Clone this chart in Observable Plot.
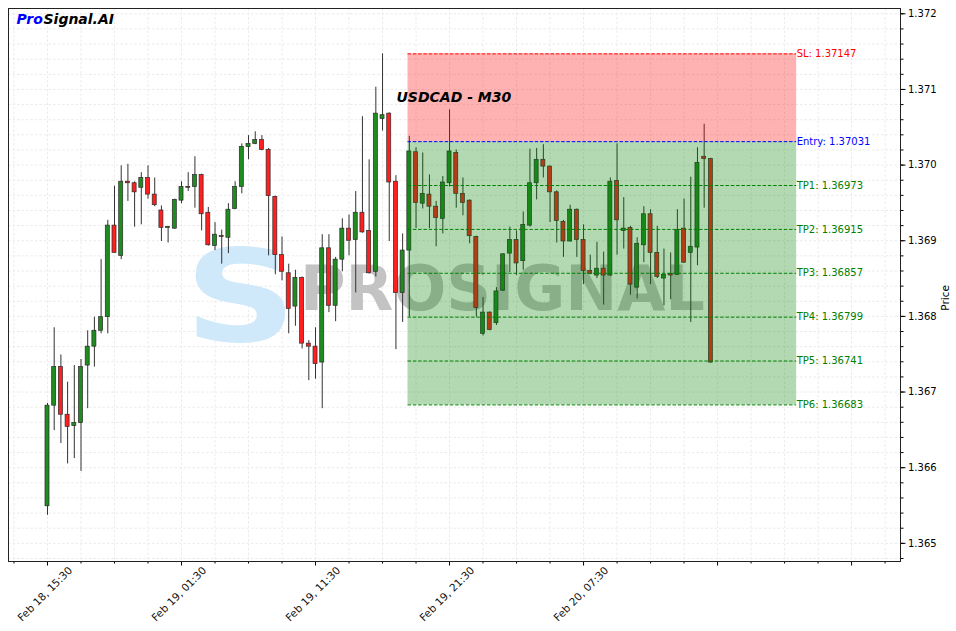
<!DOCTYPE html>
<html><head><meta charset="utf-8">
<script src="https://cdn.jsdelivr.net/npm/d3@7"></script>
<script src="https://cdn.jsdelivr.net/npm/@observablehq/plot@0.6"></script>
<style>html,body{margin:0;padding:0;background:#fff;} #chart{width:956px;height:631px;}</style>
</head><body><div id="chart"></div>
<script>
// USDCAD M30 bars, one every 30 minutes starting Feb 18, 15:30
const opens = [1.36549,1.36682,1.36733,1.36670,1.36655,1.36659,1.36735,1.36760,1.36781,1.36799,
1.36920,1.36880,1.36978,1.36976,1.36970,1.36983,1.36961,1.36940,1.36917,1.36916,
1.36953,1.36971,1.36971,1.36987,1.36937,1.36893,1.36906,1.36904,1.36942,1.36971,
1.37024,1.37028,1.37033,1.37020,1.36958,1.36881,1.36857,1.36813,1.36851,1.36764,
1.36760,1.36739,1.36890,1.36814,1.36875,1.36916,1.36901,1.36937,1.36913,1.36859,
1.37061,1.37068,1.36978,1.36831,1.36887,1.37017,1.36949,1.36961,1.36945,1.36929,
1.36976,1.37016,1.36962,1.36953,1.36905,1.36777,1.36805,1.36791,1.36834,1.36883,
1.36901,1.36873,1.36920,1.36976,1.37007,1.36998,1.36964,1.36925,1.36899,1.36941,
1.36901,1.36860,1.36854,1.36863,1.36854,1.36979,1.36913,1.36917,1.36838,1.36894,
1.36935,1.36884,1.36850,1.36856,1.36855,1.36916,1.36884,1.36891,1.37011,1.37008];
const highs = [1.36685,1.36785,1.36749,1.36713,1.36735,1.36743,1.36781,1.36799,1.36875,1.36927,
1.36972,1.36999,1.37001,1.36978,1.36990,1.36999,1.36983,1.36946,1.36919,1.36955,
1.36978,1.36990,1.37011,1.36988,1.36944,1.36924,1.36914,1.36949,1.36978,1.37028,
1.37039,1.37044,1.37039,1.37022,1.36959,1.36905,1.36869,1.36861,1.36852,1.36768,
1.36785,1.36908,1.36908,1.36878,1.36929,1.36934,1.36965,1.37064,1.37007,1.37103,
1.37147,1.37069,1.36986,1.36909,1.37038,1.37023,1.37016,1.36987,1.36952,1.36985,
1.37073,1.37020,1.36983,1.36954,1.36906,1.36825,1.36806,1.36838,1.36883,1.36918,
1.36913,1.36938,1.37021,1.37022,1.37027,1.36999,1.36966,1.36927,1.36947,1.36942,
1.36921,1.36881,1.36898,1.36885,1.36983,1.37028,1.36957,1.36919,1.36904,1.36945,
1.36941,1.36919,1.36889,1.36884,1.36941,1.36955,1.36984,1.37023,1.37054,1.37009];
const lows = [1.36537,1.36649,1.36632,1.36605,1.36612,1.36595,1.36678,1.36733,1.36777,1.36777,
1.36884,1.36875,1.36952,1.36918,1.36921,1.36955,1.36945,1.36899,1.36897,1.36915,
1.36949,1.36965,1.36943,1.36913,1.36893,1.36887,1.36869,1.36883,1.36941,1.36962,
1.37007,1.37027,1.37019,1.36880,1.36855,1.36847,1.36777,1.36787,1.36757,1.36715,
1.36717,1.36678,1.36805,1.36793,1.36859,1.36880,1.36831,1.36910,1.36856,1.36852,
1.37045,1.36899,1.36756,1.36792,1.36799,1.36916,1.36942,1.36916,1.36892,1.36909,
1.36971,1.36943,1.36933,1.36896,1.36799,1.36774,1.36781,1.36788,1.36833,1.36858,
1.36854,1.36861,1.36918,1.36954,1.36983,1.36924,1.36897,1.36878,1.36898,1.36878,
1.36842,1.36855,1.36850,1.36815,1.36853,1.36881,1.36889,1.36828,1.36823,1.36871,
1.36842,1.36850,1.36814,1.36822,1.36854,1.36870,1.36792,1.36867,1.36943,1.36738];
const closes = [1.36682,1.36733,1.36670,1.36654,1.36659,1.36733,1.36760,1.36781,1.36799,1.36920,
1.36884,1.36978,1.36976,1.36964,1.36983,1.36961,1.36947,1.36917,1.36917,1.36954,
1.36971,1.36970,1.36987,1.36935,1.36894,1.36908,1.36905,1.36941,1.36971,1.37024,
1.37028,1.37033,1.37020,1.36959,1.36881,1.36859,1.36810,1.36851,1.36764,1.36760,
1.36737,1.36890,1.36814,1.36875,1.36916,1.36900,1.36937,1.36911,1.36857,1.37068,
1.37066,1.36977,1.36831,1.36887,1.37018,1.36950,1.36962,1.36945,1.36930,1.36977,
1.37018,1.36962,1.36950,1.36906,1.36811,1.36805,1.36782,1.36833,1.36882,1.36901,
1.36870,1.36921,1.36976,1.37007,1.36998,1.36964,1.36926,1.36899,1.36941,1.36901,
1.36860,1.36856,1.36863,1.36854,1.36978,1.36927,1.36916,1.36842,1.36896,1.36935,
1.36884,1.36852,1.36855,1.36854,1.36914,1.36871,1.36892,1.37003,1.37008,1.36739];

const tickLabels = ["Feb 18, 15:30","Feb 19, 01:30","Feb 19, 11:30","Feb 19, 21:30","Feb 20, 07:30","",""];
const barsPerMajorTick = 20;
const barsPerMinorTick = 5;

const levelNames = ["SL","Entry","TP1","TP2","TP3","TP4","TP5","TP6"];
const levelValues = [1.37147,1.37031,1.36973,1.36915,1.36857,1.36799,1.36741,1.36683];
const levelColors = ["#ff0000","#0000ff","#008000","#008000","#008000","#008000","#008000","#008000"];
const zoneSpan = [53.8, 111.8]; // bar index where the trade box starts / ends

const bars = opens.map((o, i) => ({i, o, h: highs[i], l: lows[i], c: closes[i]}));
const levels = levelNames.map((name, k) => ({name, value: levelValues[k], color: levelColors[k]}));
const zones = [
  {y1: levelValues[1], y2: levelValues[0], fill: "#ff0000"},
  {y1: levelValues[7], y2: levelValues[1], fill: "#008000"}
];

const majorX = tickLabels.map((_, k) => k * barsPerMajorTick);
const minorX = d3.range(-5, 130, barsPerMinorTick);
const majorY = d3.range(1365, 1373).map(v => v / 1000);
const minorY = d3.range(13648, 13722, 2).map(v => v / 10000);

const GREEN = "#1f8c1f", RED = "#ff1f1f";
const bold = {fontWeight: "bold", fontStyle: "italic", textAnchor: "start", lineAnchor: "middle", frameAnchor: "top-left"};

const chart = Plot.plot({
  width: 956, height: 631,
  marginLeft: 8, marginRight: 56, marginTop: 8, marginBottom: 70,
  style: {fontFamily: "DejaVu Sans", fontSize: "10px", background: "#fff", color: "#000"},
  x: {domain: [-5.82, 127.3]},
  y: {domain: [1.36476, 1.37207]},
  color: {type: "identity"},
  marks: [
    Plot.gridY(minorY, {stroke: "#ebebeb", strokeOpacity: 1, strokeDasharray: "2.5,2"}),
    Plot.gridX(minorX, {stroke: "#ebebeb", strokeOpacity: 1, strokeDasharray: "2.5,2"}),
    // watermark
    Plot.text(["S"], {frameAnchor: "top-left", dx: 232, dy: 292, lineAnchor: "middle", fontSize: 128, fontWeight: "bold", fill: "#cfe8fa", textAnchor: "middle"}),
    Plot.text(["PROSIGNAL"], {frameAnchor: "top-left", dx: 502, dy: 309, lineAnchor: "middle", fontSize: 62, fontWeight: "bold", fill: "#c3c3c3", textAnchor: "middle"}),
    // candles
    Plot.ruleX(bars, {x: "i", y1: "l", y2: "h", stroke: "#333", strokeWidth: 1}),
    Plot.rect(bars, {
      x1: d => d.i - 0.3, x2: d => d.i + 0.3,
      y1: d => Math.min(d.o, d.c),
      y2: d => Math.max(d.o, d.c, Math.min(d.o, d.c) + 0.000012),
      fill: d => d.c >= d.o ? GREEN : RED, stroke: "#2b2b2b", strokeWidth: 0.7
    }),
    // trade zones
    Plot.rect(zones, {x1: zoneSpan[0], x2: zoneSpan[1], y1: "y1", y2: "y2", fill: "fill", fillOpacity: 0.3}),
    Plot.ruleY(levels, {y: "value", x1: zoneSpan[0], x2: zoneSpan[1], stroke: "color", strokeDasharray: "3.5,1.8", strokeWidth: 1}),
    Plot.text(levels, {x: zoneSpan[1], y: "value", text: d => `${d.name}: ${d.value.toFixed(5)}`, fill: "color", textAnchor: "start", dx: 0, fontSize: 10}),
    // titles
    Plot.text(["USDCAD - M30"], {...bold, dx: 388, dy: 89, fontSize: 14, fill: "#000"}),
    Plot.text(["Pro"], {...bold, dx: 8, dy: 11, fontSize: 14, fill: "#0000ff"}),
    Plot.text(["Signal.AI"], {...bold, dx: 35, dy: 11, fontSize: 14, fill: "#000"}),
    Plot.text(["Price"], {frameAnchor: "right", dx: 45, rotate: -90, fontSize: 10.5, fill: "#000"}),
    // axes
    Plot.axisY(majorY, {anchor: "right", tickSize: 4.5, tickPadding: 3, tickFormat: d3.format(".3f"), label: null, fontSize: 10, color: "#000"}),
    Plot.axisY(minorY, {anchor: "right", tickSize: 2.5, tickFormat: () => "", label: null}),
    Plot.axisX(majorX, {tickSize: 4.5, tickFormat: () => "", label: null}),
    Plot.axisX(minorX.filter(v => v % barsPerMajorTick !== 0), {tickSize: 2.5, tickFormat: () => "", label: null}),
    Plot.text(majorX, {x: d => d, text: (d, k) => tickLabels[k], frameAnchor: "bottom", dy: 35, rotate: -45, fontSize: 10.5, fill: "#111"}),
    Plot.frame({stroke: "#222", strokeWidth: 1})
  ]
});
document.getElementById("chart").appendChild(chart);
const svg = d3.select(chart);
svg.selectAll("text").filter(function() { return this.textContent === ""; }).remove();
svg.selectAll("text").filter(function() { return this.textContent === "PROSIGNAL"; })
  .attr("textLength", 405).attr("lengthAdjust", "spacingAndGlyphs")
  .each(function() {
    const x = this.getAttribute("x"), y = this.getAttribute("y");
    const t = this.getAttribute("transform") || "";
    if (x !== null || y !== null) {
      this.removeAttribute("x"); this.removeAttribute("y");
      this.setAttribute("transform", `${t} translate(${x || 0},${y || 0}) scale(1,1.29)`);
    } else {
      this.setAttribute("transform", `${t} scale(1,1.29)`);
    }
  });
svg.selectAll("text").filter(function() { return this.textContent === "S"; })
  .attr("textLength", 112).attr("lengthAdjust", "spacingAndGlyphs");
</script>
</body></html>
